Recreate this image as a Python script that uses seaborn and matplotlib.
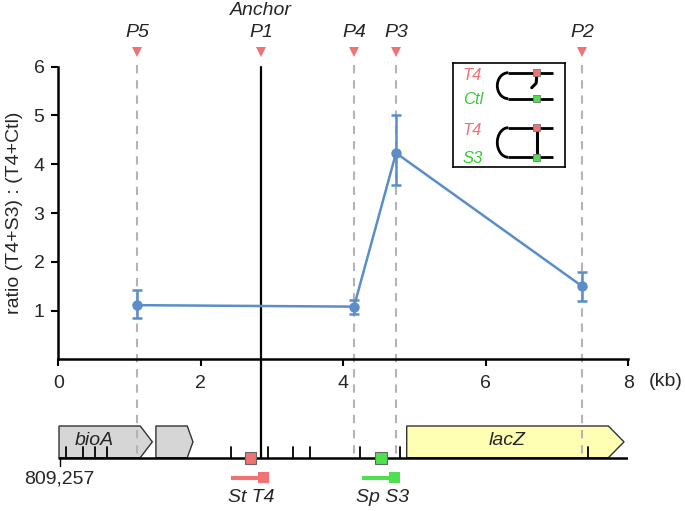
import numpy as np
import pandas as pd
import matplotlib
matplotlib.use("Agg")
import matplotlib.pyplot as plt
import matplotlib.patches as mpatches
import seaborn as sns

# ---------------- data ----------------
site_names = ["P5", "P1", "P4", "P3", "P2"]
site_kb = [1.11, 2.85, 4.15, 4.74, 7.35]
anchor_name = "P1"

meas_kb = [1.11, 4.15, 4.74, 7.35]
ratio = [1.11, 1.08, 4.23, 1.50]
err_low = [0.84, 0.93, 3.58, 1.20]
err_high = [1.43, 1.22, 5.00, 1.80]

x_ticks = [0, 2, 4, 6, 8]
y_ticks = [1, 2, 3, 4, 5, 6]

gene_names = ["bioA", "", "lacZ"]
gene_start = [0.01, 1.37, 4.89]
gene_body_end = [1.15, 1.81, 7.72]
gene_tip = [1.32, 1.89, 7.94]
gene_colors = ["#d6d6d6", "#d6d6d6", "#ffffb4"]
locus_end = 8.07
site_ticks = [0.11, 0.35, 0.51, 0.69, 2.42, 2.94, 3.29, 3.53, 4.23, 4.80, 7.43]
tag_kb = [2.70, 4.53]
tag_colors = ["#f07272", "#4ee04e"]
primer_start = [2.42, 4.26]
primer_end = [2.96, 4.80]
primer_labels = ["St T4", "Sp S3"]
coord_label = "809,257"

# ---------------- style ----------------
sns.set_theme(style="ticks")
plt.rcParams['font.family'] = ['Liberation Sans', 'DejaVu Sans']

FS = 14
W, H = 685, 511
BLUE = "#5b8ec9"
RED = "#f07272"
GREEN = "#33cc33"
DASH = "#b4b4b4"

fig = plt.figure(figsize=(W / 100, H / 100), dpi=100)

X0, X1 = 58.3, 628.3      # pixel x of 0 and 8 kb
YT, YB = 66.7, 359.3      # pixel y of 6 and 0

ax = fig.add_axes([X0 / W, 1 - YB / H, (X1 - X0) / W, (YB - YT) / H])
ax.set_zorder(3)
ax.patch.set_visible(False)


def yfrac(py):
    return (YB - py) / (YB - YT)


df = pd.DataFrame({"kb": meas_kb, "ratio": ratio})
sns.lineplot(data=df, x="kb", y="ratio", ax=ax, color=BLUE, linewidth=1.8,
             marker="o", markersize=7.5, markeredgewidth=0, zorder=6)
r = np.array(ratio)
ax.errorbar(meas_kb, ratio, yerr=[r - np.array(err_low), np.array(err_high) - r],
            fmt="none", ecolor=BLUE, elinewidth=1.8, capsize=3.4, capthick=1.8,
            zorder=6)

ax.set_xlim(0, 8)
ax.set_ylim(0, 6)
ax.set_xticks(x_ticks)
ax.set_yticks(y_ticks)
ax.set_xlabel("")
ax.set_ylabel("ratio (T4+S3) : (T4+Ctl)", fontsize=FS, labelpad=7.5)
for s in ["top", "right"]:
    ax.spines[s].set_visible(False)
for s in ["left", "bottom"]:
    ax.spines[s].set_linewidth(1.8)
    ax.spines[s].set_color("black")
ax.tick_params(axis="both", labelsize=FS, width=1.5, length=5, color="black")
ax.tick_params(axis="x", pad=6.5)
ax.tick_params(axis="y", pad=5)
fig.text(683 / W, 1 - 381.7 / H, "(kb)", fontsize=FS, ha="right", va="center")

# site markers, dashed / anchor lines
xt = ax.get_xaxis_transform()
for name, kb in zip(site_names, site_kb):
    if name == anchor_name:
        ax.plot([kb, kb], [1.0, yfrac(458)], color="black", lw=1.6,
                transform=xt, clip_on=False, zorder=4)
        ax.text(kb, yfrac(10), "Anchor", transform=xt, ha="center", va="center",
                fontsize=FS, style="italic")
    else:
        ax.plot([kb, kb], [yfrac(65), yfrac(458)], color=DASH, lw=1.5,
                dashes=(4, 3.3), transform=xt, clip_on=False, zorder=2)
    ax.plot([kb], [yfrac(52)], marker="v", color=RED, markersize=6.5,
            markeredgewidth=0, transform=xt, clip_on=False)
    ax.text(kb, yfrac(32), name, transform=xt, ha="center", va="center",
            fontsize=FS, style="italic")

# ---------------- gene map ----------------
GTOP = 400
ax2 = fig.add_axes([X0 / W, 0, (X1 - X0) / W, (H - GTOP) / H])
ax2.set_xlim(0, 8)
ax2.set_ylim(H, GTOP)
ax2.axis("off")
ax2.set_zorder(1)

BASE = 457.7
BTOP = 426
for name, x0, x1, tip, col in zip(gene_names, gene_start, gene_body_end,
                                   gene_tip, gene_colors):
    poly = mpatches.Polygon([(x0, BTOP), (x1, BTOP), (tip, (BTOP + BASE) / 2),
                             (x1, BASE), (x0, BASE)], closed=True,
                            facecolor=col, edgecolor="#333333", lw=1.0, zorder=1)
    ax2.add_patch(poly)
    if name:
        ax2.text((x0 + x1) / 2 - (0.08 if name == "bioA" else 0), 440, name,
                 ha="center", va="center", fontsize=FS, style="italic")

ax2.plot([0, locus_end], [BASE, BASE], color="black", lw=1.8,
         solid_capstyle="butt", zorder=3)
for t in site_ticks:
    ax2.plot([t, t], [BASE, BASE - 11], color="black", lw=1.3, zorder=3)
ax2.plot([0.02, 0.02], [BASE, BASE + 8], color="black", lw=1.0, zorder=3)
ax2.text(0.02, 479, coord_label, ha="center", va="center", fontsize=FS)

for kb, col in zip(tag_kb, tag_colors):
    ax2.add_patch(mpatches.Rectangle((kb - 0.08, BASE - 5.8), 0.16, 11.6,
                                     facecolor=col, edgecolor="#666666", lw=0.8,
                                     zorder=4))

for x0, x1, col, lab in zip(primer_start, primer_end, tag_colors, primer_labels):
    ax2.plot([x0, x1], [477.7, 477.7], color=col, lw=3, solid_capstyle="butt",
             zorder=3)
    ax2.add_patch(mpatches.Rectangle((x1 - 0.16, 472), 0.16, 11, facecolor=col,
                                     edgecolor="none", zorder=3))
    ax2.text((x0 + x1) / 2 + 0.02, 497, lab, ha="center", va="center",
             fontsize=FS, style="italic")

# ---------------- inset legend ----------------
LX0, LX1, LY0, LY1 = 452.7, 565, 62.7, 167
ax3 = fig.add_axes([LX0 / W, 1 - LY1 / H, (LX1 - LX0) / W, (LY1 - LY0) / H])
ax3.set_xlim(LX0, LX1)
ax3.set_ylim(LY1, LY0)
ax3.set_xticks([])
ax3.set_yticks([])
ax3.set_facecolor("white")
for s in ax3.spines.values():
    s.set_linewidth(1.2)
    s.set_color("black")
ax3.set_zorder(5)

legend_rows = [("T4", "Ctl", 72.7, 98.7, False), ("T4", "S3", 127.7, 157.3, True)]
for lab1, lab2, ytop, ybot, linked in legend_rows:
    ax3.text(472, ytop + 3, lab1, color=RED, fontsize=12, style="italic",
             ha="center", va="center")
    ax3.text(473, ybot + 1, lab2, color=GREEN, fontsize=12, style="italic",
             ha="center", va="center")
    cx = 508.3
    ax3.add_patch(mpatches.Arc((cx, (ytop + ybot) / 2), 22, ybot - ytop,
                               theta1=90, theta2=270, lw=2.0, color="black"))
    ax3.plot([cx, 553.3], [ytop, ytop], color="black", lw=2.0,
             solid_capstyle="butt")
    ax3.plot([cx, 553.3], [ybot, ybot], color="black", lw=2.0,
             solid_capstyle="butt")
    if linked:
        ax3.plot([536.7, 536.7], [ytop, ybot], color="black", lw=2.2)
    else:
        ax3.plot([536.7, 536.2, 531.7], [ytop + 3, ytop + 10.5, ytop + 15],
                 color="black", lw=2.2, solid_capstyle="round")
    ax3.add_patch(mpatches.Rectangle((536.7 - 3.4, ytop - 3.4), 6.8, 6.8,
                                     facecolor=RED, edgecolor="#777777", lw=0.6,
                                     zorder=5))
    ax3.add_patch(mpatches.Rectangle((536.7 - 3.4, ybot - 3.4), 6.8, 6.8,
                                     facecolor="#4ee04e", edgecolor="#777777",
                                     lw=0.6, zorder=5))

fig.savefig("out.png", dpi=100)
